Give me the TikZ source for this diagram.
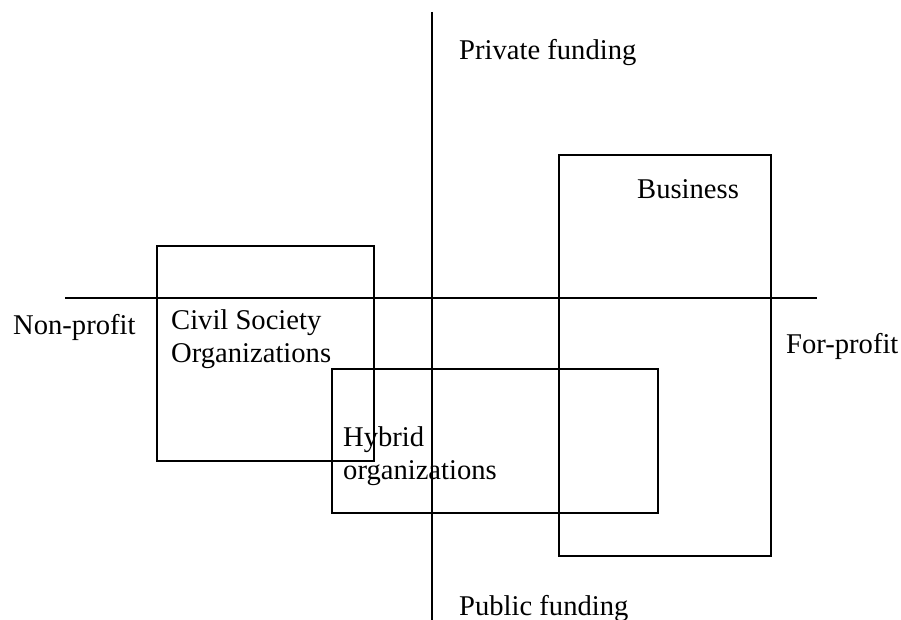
\documentclass[tikz,border=0pt]{standalone}
\usepackage{fontspec}
\setmainfont{Liberation Serif}
\begin{document}
\begin{tikzpicture}[x=1pt,y=-1pt,
  ln/.style={draw=black,line width=1.6pt},
  lbl/.style={anchor=base west,inner sep=0pt,font=\fontsize{28.6}{33}\selectfont,align=left}]
\useasboundingbox (0,0) rectangle (901,620);
\coordinate (vt) at (432,12);
\coordinate (vb) at (432,620);
\coordinate (hl) at (65,298);
\coordinate (hr) at (817,298);
\draw[ln] (vt) -- (vb);
\draw[ln] (hl) -- (hr);
\node[ln,inner sep=0pt] (biz) at (665,355.5) [draw,minimum width=212pt,minimum height=401pt] {};
\node[ln,inner sep=0pt] (cso) at (265.5,353.5) [draw,minimum width=217pt,minimum height=215pt] {};
\node[ln,inner sep=0pt] (hyb) at (495,441) [draw,minimum width=326pt,minimum height=144pt] {};
\node[lbl] (pf) at (459,60) {Private funding};
\node[lbl] (pub) at (459,615) {Public funding};
\node[lbl] (np) at (13,334) {Non-profit};
\node[lbl] (fp) at (786,353) {For-profit};
\node[lbl] (bt) at (637,199) {Business};
\node[lbl] (ct1) at (171,329) {Civil Society};
\node[lbl] (ct2) at (171,362) {Organizations};
\node[lbl] (ht1) at (343,446) {Hybrid};
\node[lbl] (ht2) at (343,479) {organizations};
\end{tikzpicture}
\end{document}
